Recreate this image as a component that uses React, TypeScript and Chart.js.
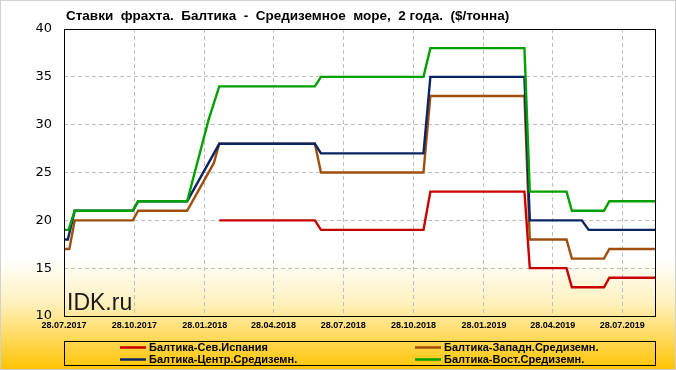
import React, { useEffect, useRef } from "react";
import { Chart, registerables } from "chart.js";

Chart.register(...registerables);

const TITLE = "Ставки  фрахта.  Балтика  -  Средиземное  море,  2 года.  ($/тонна)";
const WATERMARK = "IDK.ru";
const START = "2017-07-28";
const END = "2019-09-10";

const tickLabels = [
  "28.07.2017", "28.10.2017", "28.01.2018", "28.04.2018", "28.07.2018",
  "28.10.2018", "28.01.2019", "28.04.2019", "28.07.2019",
];
const yTicks = [10, 15, 20, 25, 30, 35, 40];

const seriesNames = [
  "Балтика-Сев.Испания",
  "Балтика-Западн.Средиземн.",
  "Балтика-Центр.Средиземн.",
  "Балтика-Вост.Средиземн.",
];
const seriesColors = ["#C80000", "#A04E0E", "#0B2463", "#00A000"];

const redDates = ["2018-02-16", "2018-06-21", "2018-06-29", "2018-11-10", "2018-11-19", "2019-03-22", "2019-03-29", "2019-05-16", "2019-05-23", "2019-07-04", "2019-07-11", "2019-09-10"];
const redValues = [20, 20, 19, 19, 23, 23, 15, 15, 13, 13, 14, 14];

const brownDates = ["2017-07-28", "2017-08-04", "2017-08-11", "2017-10-26", "2017-11-02", "2018-01-05", "2018-02-09", "2018-02-16", "2018-06-21", "2018-06-29", "2018-11-10", "2018-11-19", "2019-03-22", "2019-03-29", "2019-05-16", "2019-05-23", "2019-07-04", "2019-07-11", "2019-09-10"];
const brownValues = [17, 17, 20, 20, 21, 21, 26, 28, 28, 25, 25, 33, 33, 18, 18, 16, 16, 17, 17];

const blueDates = ["2017-07-28", "2017-08-02", "2017-08-11", "2017-10-26", "2017-11-02", "2018-01-05", "2018-01-19", "2018-02-16", "2018-06-21", "2018-06-29", "2018-11-10", "2018-11-19", "2019-03-22", "2019-03-29", "2019-06-05", "2019-06-14", "2019-09-10"];
const blueValues = [18, 18, 21, 21, 22, 22, 24, 28, 28, 27, 27, 35, 35, 20, 20, 19, 19];

const greenDates = ["2017-07-28", "2017-08-03", "2017-08-11", "2017-10-26", "2017-11-02", "2018-01-05", "2018-02-02", "2018-02-16", "2018-06-21", "2018-06-29", "2018-11-10", "2018-11-19", "2019-03-22", "2019-03-29", "2019-05-16", "2019-05-23", "2019-07-04", "2019-07-11", "2019-09-10"];
const greenValues = [19, 19, 21, 21, 22, 22, 30.5, 34, 34, 35, 35, 38, 38, 23, 23, 21, 21, 22, 22];

const DAY = 86400000;
const dayOfIso = (iso: string) => Math.round((Date.parse(iso) - Date.parse(START)) / DAY);
const dayOfLabel = (s: string) => {
  const [d, m, y] = s.split(".");
  return dayOfIso(`${y}-${m}-${d}`);
};
const points = (dates: string[], values: number[]) =>
  dates.map((d, i) => ({ x: dayOfIso(d), y: values[i] }));

const decorPlugin = {
  id: "decor",
  beforeDraw(chart: any) {
    const { ctx, width, height } = chart;
    ctx.save();
    const g = ctx.createLinearGradient(0, 0, 0, height);
    g.addColorStop(0, "#FFFFFF");
    g.addColorStop(0.7, "#FFFFFF");
    g.addColorStop(0.82, "#FFF0BC");
    g.addColorStop(1, "#FFC400");
    ctx.fillStyle = g;
    ctx.fillRect(0, 0, width, height);
    ctx.restore();
  },
  afterDraw(chart: any) {
    const { ctx, chartArea: a, width, height } = chart;
    ctx.save();
    ctx.strokeStyle = "#000000";
    ctx.lineWidth = 1;
    ctx.strokeRect(Math.round(a.left) + 0.5, Math.round(a.top) + 0.5, Math.round(a.right - a.left) - 1, Math.round(a.bottom - a.top));
    ctx.fillStyle = "#000000";
    ctx.font = "bold 13.5px 'Liberation Sans'";
    ctx.textAlign = "left";
    ctx.textBaseline = "middle";
    ctx.fillText(TITLE, 66, 16);
    ctx.font = "23px 'Liberation Sans'";
    ctx.fillStyle = "#1A1A1A";
    ctx.textBaseline = "alphabetic";
    ctx.fillText(WATERMARK, 67, 310);
    ctx.strokeStyle = "#000000";
    ctx.lineWidth = 1;
    ctx.strokeRect(64.5, 341.5, 591, 24);
    const cols = [120, 415];
    const rows = [347.5, 359.5];
    ctx.font = "bold 11px 'Liberation Sans'";
    ctx.textBaseline = "middle";
    seriesNames.forEach((name, i) => {
      const x = cols[i % 2];
      const y = rows[Math.floor(i / 2)];
      ctx.strokeStyle = seriesColors[i];
      ctx.lineWidth = 2.5;
      ctx.beginPath();
      ctx.moveTo(x, y);
      ctx.lineTo(x + 26, y);
      ctx.stroke();
      ctx.fillStyle = "#000000";
      ctx.fillText(name, x + 29, y + 0.5);
    });
    ctx.strokeStyle = "#D0D0D0";
    ctx.lineWidth = 1;
    ctx.strokeRect(0.5, 0.5, width - 1, height - 1);
    ctx.restore();
  },
};

export default function App() {
  const ref = useRef<HTMLCanvasElement | null>(null);
  useEffect(() => {
    document.body.style.margin = "0";
    const canvas = ref.current;
    if (!canvas) return;
    const allSeries = [
      points(redDates, redValues),
      points(brownDates, brownValues),
      points(blueDates, blueValues),
      points(greenDates, greenValues),
    ];
    const tickDays = tickLabels.map(dayOfLabel);
    const chart = new Chart(canvas, {
      type: "line",
      data: {
        datasets: allSeries.map((data, i) => ({
          label: seriesNames[i],
          data,
          borderColor: seriesColors[i],
          backgroundColor: seriesColors[i],
          borderWidth: 2.4,
          pointRadius: 0,
          tension: 0,
          fill: false,
          order: 3 - i,
        })),
      },
      options: {
        animation: false,
        responsive: false,
        maintainAspectRatio: false,
        devicePixelRatio: 1,
        layout: { padding: { top: 29, right: 20, left: 0, bottom: 0 } },
        plugins: {
          legend: { display: false },
          title: { display: false },
          tooltip: { enabled: false },
        },
        scales: {
          x: {
            type: "linear",
            min: 0,
            max: dayOfIso(END),
            afterBuildTicks: (s: any) => {
              s.ticks = tickDays.map((v) => ({ value: v }));
            },
            afterFit: (s: any) => {
              s.height = 54;
            },
            grid: { color: "#BEBEBE", lineWidth: 1, drawTicks: false },
            border: { display: false, dash: [4, 3] },
            ticks: {
              autoSkip: false,
              maxRotation: 0,
              minRotation: 0,
              padding: 4,
              color: "#000000",
              font: { family: "'Liberation Sans'", size: 9, weight: "bold" },
              callback: (_v: any, i: number) => tickLabels[i],
            },
          },
          y: {
            min: 10,
            max: 40,
            afterBuildTicks: (s: any) => {
              s.ticks = yTicks.map((v) => ({ value: v }));
            },
            afterFit: (s: any) => {
              s.width = 64;
            },
            grid: { color: "#BEBEBE", lineWidth: 1, drawTicks: false },
            border: { display: false, dash: [4, 3] },
            ticks: {
              padding: 12,
              color: "#000000",
              font: { family: "'DejaVu Sans'", size: 13 },
              callback: (v: any) => String(v),
            },
          },
        },
      },
      plugins: [decorPlugin],
    } as any);
    return () => chart.destroy();
  }, []);
  return (
    <div style={{ width: 676, height: 370 }}>
      <canvas ref={ref} width={676} height={370} style={{ display: "block" }} />
    </div>
  );
}
